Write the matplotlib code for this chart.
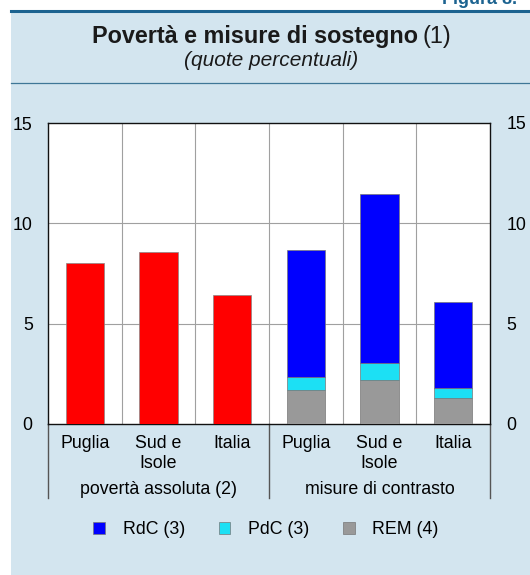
import numpy as np
import matplotlib
matplotlib.use("Agg")
import matplotlib.pyplot as plt
from matplotlib.patches import Rectangle
from matplotlib.lines import Line2D

plt.rcParams['font.family'] = ['Liberation Sans', 'DejaVu Sans']

# DATA
labels = ['Puglia', 'Sud e\nIsole', 'Italia', 'Puglia', 'Sud e\nIsole', 'Italia']
groups = ['povertà assoluta (2)', 'misure di contrasto']
poverty = [8.0, 8.55, 6.45]
rem = [1.7, 2.2, 1.3]
pdc = [0.65, 0.85, 0.5]
rdc = [6.3, 8.4, 4.3]
yticks = [0, 5, 10, 15]

W, H = 530, 575
fig = plt.figure(figsize=(W / 100, H / 100), dpi=100)
fig.patch.set_facecolor('white')

# background panel + rules
fig.patches.append(Rectangle((11 / W, 0), 1, 1 - 12 / H, transform=fig.transFigure,
                             facecolor='#d3e5ef', edgecolor='none', zorder=-10))
fig.add_artist(Line2D([11 / W, 1], [1 - 10.5 / H] * 2, transform=fig.transFigure,
                      color='#1c6390', lw=2.2))
fig.add_artist(Line2D([11 / W, 1], [1 - 83 / H] * 2, transform=fig.transFigure,
                      color='#3f7797', lw=0.9))
fig.text(442 / W, 1 - 0 / H, 'Figura 8.', fontsize=13, fontweight='bold',
         color='#1c6390', va='center', ha='left')

# titles
fig.text(418 / W, 1 - 37 / H, 'Povertà e misure di sostegno', fontsize=16.8,
         fontweight='bold', ha='right', va='center', color='#1a1a1a')
fig.text(422 / W, 1 - 37 / H, '(1)', fontsize=16.8, ha='left', va='center', color='#1a1a1a')
fig.text(271 / W, 1 - 61 / H, '(quote percentuali)', fontsize=15, style='italic',
         ha='center', va='center', color='#1a1a1a')

ax = fig.add_axes([48 / W, (H - 424) / H, 442 / W, 301 / H])
ax.set_facecolor('white')
x = np.arange(6)
bw = 0.52

ax.bar(x[:3], poverty, bw, color='#ff0000', edgecolor='#888888', lw=0.5, zorder=3)
b_rem = ax.bar(x[3:], rem, bw, color='#999999', edgecolor='#777777', lw=0.5, zorder=3,
               label='REM (4)')
b_pdc = ax.bar(x[3:], pdc, bw, bottom=rem, color='#1ce0f4', edgecolor='#777777',
               lw=0.5, zorder=3, label='PdC (3)')
b_rdc = ax.bar(x[3:], rdc, bw, bottom=np.add(rem, pdc), color='#0000ff',
               edgecolor='#777777', lw=0.5, zorder=3, label='RdC (3)')

ax.set_xlim(-0.5, 5.5)
ax.set_ylim(0, 15)
ax.set_yticks(yticks)
ax.set_xticks(x)
ax.set_xticklabels(labels, fontsize=12.8, linespacing=1.2)
ax.tick_params(axis='x', length=0, pad=8)
ax.tick_params(axis='y', length=0, pad=11, labelsize=12.8)

for v in [5, 10]:
    ax.axhline(v, color='#a0a0a0', lw=0.8, zorder=1)
for v in [0.5, 1.5, 2.5, 3.5, 4.5]:
    ax.axvline(v, color='#a0a0a0', lw=0.8, zorder=1)

for s in ax.spines.values():
    s.set_color('#111111')
    s.set_linewidth(1.0)

ax2 = ax.twinx()
ax2.set_ylim(0, 15)
ax2.set_yticks(yticks)
ax2.tick_params(axis='y', length=0, pad=12, labelsize=12.8)
for s in ax2.spines.values():
    s.set_visible(False)

# group separators below the axis
for xf in [0, 0.5, 1]:
    ax.plot([xf, xf], [0, -(498 - 424) / 301], transform=ax.transAxes, clip_on=False,
            color='#555555', lw=1.0)
ax.text(0.25, -(489 - 424) / 301, groups[0], transform=ax.transAxes, ha='center',
        va='center', fontsize=12.8)
ax.text(0.75, -(489 - 424) / 301, groups[1], transform=ax.transAxes, ha='center',
        va='center', fontsize=12.8)

fig.legend(handles=[b_rdc, b_pdc, b_rem], labels=['RdC (3)', 'PdC (3)', 'REM (4)'],
           loc='center', bbox_to_anchor=(266 / W, 1 - 530 / H), ncol=3, frameon=False,
           fontsize=12.8, handlelength=0.65, handleheight=0.65, columnspacing=1.9,
           handletextpad=1.0)

fig.savefig('out.png', dpi=100)
